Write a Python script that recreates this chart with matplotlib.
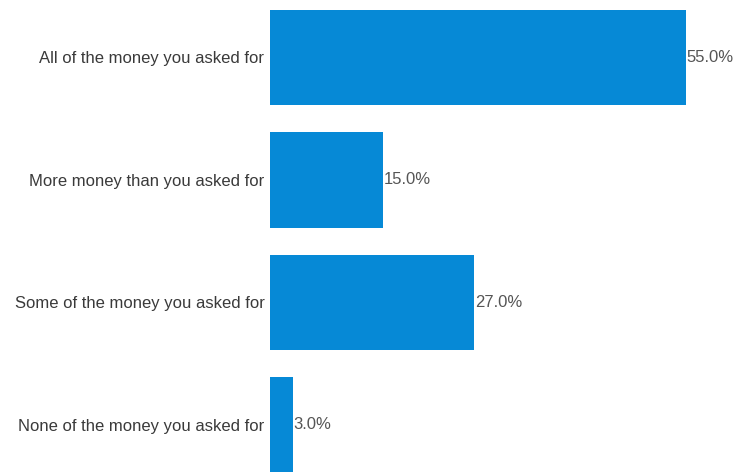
import matplotlib
matplotlib.use("Agg")
import matplotlib.pyplot as plt

categories = [
    "All of the money you asked for",
    "More money than you asked for",
    "Some of the money you asked for",
    "None of the money you asked for",
]
values = [55.0, 15.0, 27.0, 3.0]
value_labels = ["55.0%", "15.0%", "27.0%", "3.0%"]

plt.rcParams["font.family"] = ["Liberation Sans", "DejaVu Sans"]

fig = plt.figure(figsize=(7.36, 4.72), dpi=100)
ax = fig.add_axes([270 / 736, 0, 466 / 736, 1])

pos = list(range(len(categories)))
bars = ax.barh(pos, values, height=0.78, color="#0689d6")

# percentage labels just right of each bar
for bar, lab in zip(bars, value_labels):
    ax.text(bar.get_width() + 0.1, bar.get_y() + bar.get_height() / 2, lab,
            va="center", ha="left", fontsize=12, color="#555555")

ax.set_xlim(0, 466 / 7.56)
ax.set_ylim(3.384, -0.469)
ax.set_yticks(pos)
ax.set_yticklabels(categories, fontsize=12, color="#3a3a3a")
ax.tick_params(axis="y", length=0, pad=4)
ax.set_xticks([])
for s in ax.spines.values():
    s.set_visible(False)

fig.savefig("out.png", dpi=100)
